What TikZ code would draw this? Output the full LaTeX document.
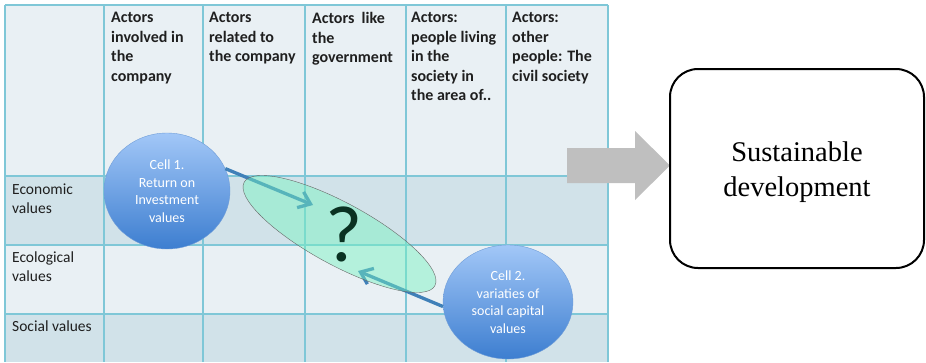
\documentclass[tikz,border=0pt]{standalone}
\usepackage{fontspec}
\setmainfont{Liberation Serif}
\newfontfamily\calibri{Carlito}
\usetikzlibrary{arrows.meta,shapes.geometric}

\definecolor{gridline}{HTML}{7FC7D7}
\definecolor{rowlight}{HTML}{E9F0F4}
\definecolor{rowdark}{HTML}{D1E2E9}
\definecolor{balltop}{HTML}{A2C7F7}
\definecolor{ballbottom}{HTML}{3D7ED0}
\definecolor{balledge}{HTML}{6F9DD8}
\definecolor{linkblue}{HTML}{3F80B8}
\definecolor{blobfill}{HTML}{75F4BF}
\definecolor{qmark}{HTML}{0A3222}
\definecolor{arrowgray}{HTML}{BFBFBF}

\tikzset{
  colhead/.style={anchor=north west, align=left, inner sep=0pt, text=black!88,
    font=\calibri\bfseries\fontsize{16}{19.6}\selectfont},
  rowhead/.style={anchor=north west, align=left, inner sep=0pt, text=black!88,
    font=\calibri\fontsize{15.5}{19}\selectfont},
  cellball/.style={ellipse, draw=balledge, top color=balltop, bottom color=ballbottom,
    inner sep=0pt, align=center, text=white, font=\calibri\fontsize{14}{17.5}\selectfont},
  link/.style={draw=linkblue, line width=3.3pt, -{Straight Barb[length=11pt,width=17pt]}},
  blob/.style={ellipse, draw=black!60, fill=blobfill, fill opacity=.45, inner sep=0pt,
    minimum width=217pt, minimum height=62pt, rotate=-28.5},
  goalbox/.style={draw, line width=2pt, rounded corners=28pt, minimum width=254pt,
    minimum height=199pt},
  goaltext/.style={align=center, inner sep=0pt, font=\fontsize{28.5}{35}\selectfont}
}

\begin{document}
\begin{tikzpicture}[x=1pt, y=-1pt]
  \useasboundingbox (0,0) rectangle (926,362);
  % table
  \fill[rowlight] (5,5) rectangle (608,176);
  \fill[rowdark] (5,176) rectangle (608,245);
  \fill[rowlight] (5,245) rectangle (608,314);
  \fill[rowdark] (5,314) rectangle (608,362);
  \foreach \x in {5,104,203,305,406,506,608}
    \draw[gridline, line width=1.2pt] (\x,5) -- (\x,362);
  \foreach \y in {5,176,245,314}
    \draw[gridline, line width=1.2pt] (5,\y) -- (608,\y);

  \node[colhead] (actA) at (111,12) {Actors\\involved in\\the\\company};
  \node[colhead] (actB) at (209,12) {Actors\\related to\\the company};
  \node[colhead] (actC) at (312,12) {Actors\ \ like\\the\\government};
  \node[colhead] (actD) at (411,12) {Actors:\\people living\\in the\\society in\\the area of..};
  \node[colhead] (actE) at (512,12) {Actors:\\other\\people: The\\civil society};

  \node[rowhead] (econ) at (12,184) {Economic\\values};
  \node[rowhead] (ecol) at (12,252) {Ecological\\values};
  \node[rowhead] (soc) at (12,321) {Social values};

  % cells and the question
  \node[cellball, minimum width=126pt, minimum height=116pt] (cellA) at (167,191)
    {Cell 1.\\Return on\\Investment\\values};
  \node[cellball, minimum width=130pt, minimum height=114pt] (cellB) at (508,302)
    {Cell 2.\\variaties of\\social capital\\values};

  \coordinate (headA) at (313,205);
  \coordinate (headB) at (358,271);
  \draw[link] (cellA.21) -- (headA);
  \draw[link] (cellB.184) -- (headB);

  \node[blob] (doubt) at (339.5,234) {};
  \node[inner sep=0pt, text=qmark, font=\calibri\fontsize{80}{80}\selectfont] (qm) at (344,234) {?};

  % result
  \fill[arrowgray] (567,148) -- (635,148) -- (635,131) -- (670,165.5)
    -- (635,200) -- (635,183) -- (567,183) -- cycle;
  \node[goalbox] (goal) at (797,168.5) {};
  \node[goaltext] (goallabel) at ([yshift=-4pt]goal.center) {Sustainable\\development};
\end{tikzpicture}
\end{document}
